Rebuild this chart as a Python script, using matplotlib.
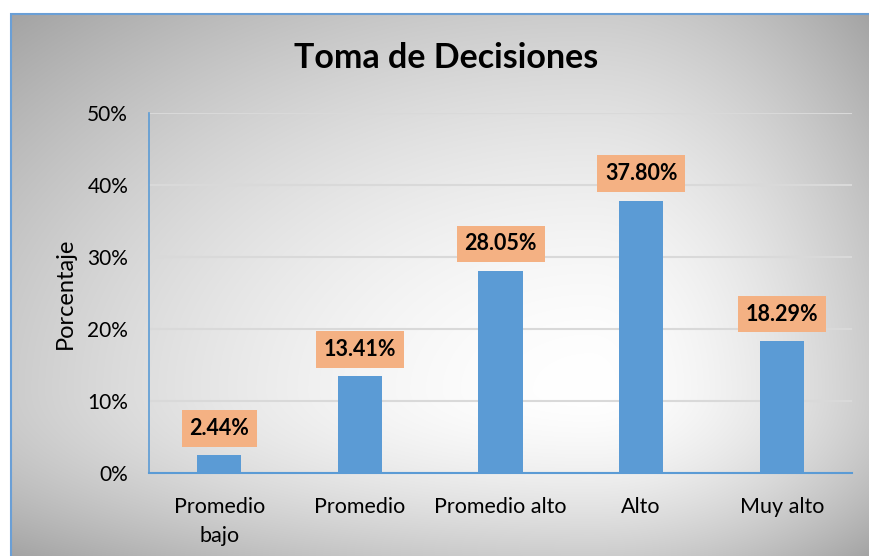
import matplotlib
matplotlib.use("Agg")
import matplotlib.pyplot as plt
import numpy as np
from matplotlib.patches import Rectangle

categories = ["Promedio\nbajo", "Promedio", "Promedio alto", "Alto", "Muy alto"]
values = [2.44, 13.41, 28.05, 37.80, 18.29]
labels = ["2.44%", "13.41%", "28.05%", "37.80%", "18.29%"]
yticks = [0, 10, 20, 30, 40, 50]

plt.rcParams["font.family"] = ["Lato", "DejaVu Sans"]

W, H = 869, 556
fig = plt.figure(figsize=(W / 100, H / 100), dpi=100)

# radial-ish gradient background inside the chart frame
x0, y0 = 11, 14
cx, cy = 590, 390
xs = np.arange(x0, W)
ys = np.arange(y0, H)
X, Y = np.meshgrid(xs, ys)
u = np.where(X < cx, (X - cx) / (cx - x0), (X - cx) / (W - cx))
v = np.where(Y < cy, (Y - cy) / (cy - y0), (Y - cy) / (H - cy))
d = np.sqrt(u ** 2 + v ** 2) / np.sqrt(2)
g = 1 - 0.36 * np.clip(d, 0, 1) ** 1.7
img = np.dstack([g, g, g])

bg = fig.add_axes([x0 / W, 0, 1 - x0 / W, (H - y0) / H])
bg.imshow(img, aspect="auto", extent=[0, 1, 0, 1], interpolation="bilinear")
bg.set_axis_off()
fig.patches.append(Rectangle((x0 / W, -0.1), 1.2, (H - y0) / H + 0.1,
                             transform=fig.transFigure, fill=False,
                             edgecolor="#6a9fd6", linewidth=1.5, zorder=5))

ax = fig.add_axes([149 / W, 1 - 473 / H, (852 - 149) / W, (473 - 113) / H])
ax.patch.set_alpha(0)

xpos = np.arange(len(categories))
ax.bar(xpos, values, width=0.315, color="#5b9bd5", zorder=3)

for xi, v_, lab in zip(xpos, values, labels):
    ax.annotate(lab, (xi, v_), xytext=(0, 12), textcoords="offset points",
                ha="center", va="bottom", fontsize=15.5, fontweight="bold",
                color="black", zorder=4,
                bbox=dict(boxstyle="square,pad=0.36", facecolor="#f4b183",
                          edgecolor="none"))

ax.set_xlim(-0.5, len(categories) - 0.5)
ax.set_ylim(0, 50)
ax.set_yticks(yticks)
ax.set_yticklabels([f"{t}%" for t in yticks], fontsize=15)
ax.set_xticks(xpos)
ax.set_xticklabels(categories, fontsize=15.5, linespacing=1.6)
ax.tick_params(axis="both", length=0)
ax.tick_params(axis="y", pad=15)
ax.tick_params(axis="x", pad=17)
ax.grid(axis="y", color="#d9d9d9", linewidth=1.5, zorder=0)
ax.set_axisbelow(True)

for s in ["top", "right"]:
    ax.spines[s].set_visible(False)
ax.spines["left"].set_color("#5b9bd5")
ax.spines["bottom"].set_color("#5b9bd5")
ax.spines["left"].set_linewidth(1.2)
ax.spines["bottom"].set_linewidth(1.5)

ax.set_ylabel("Porcentaje", fontsize=17, labelpad=8)
fig.text(446 / W, 1 - 58 / H, "Toma de Decisiones", ha="center", va="center",
         fontsize=24.5, fontweight="bold")

fig.savefig("out.png", dpi=100)
